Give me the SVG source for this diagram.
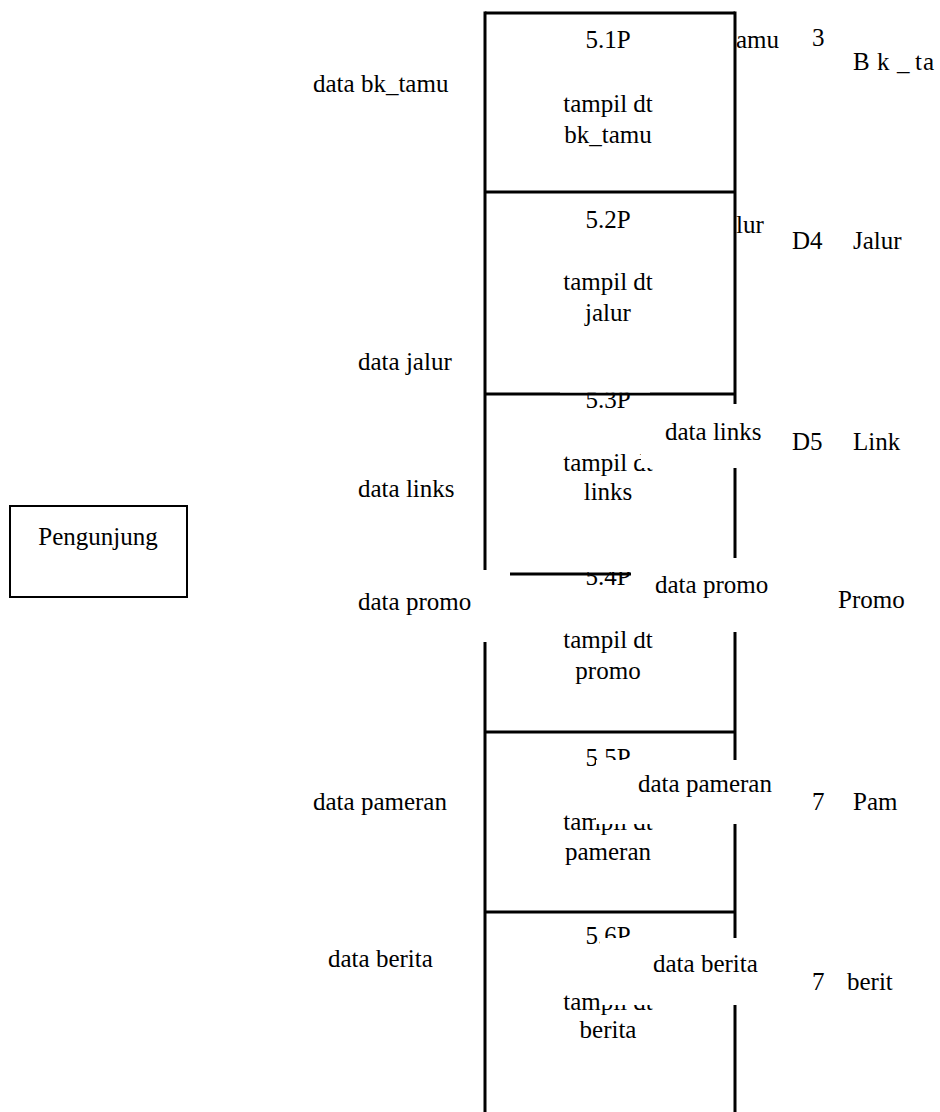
<svg xmlns="http://www.w3.org/2000/svg" width="940" height="1112" viewBox="0 0 940 1112">
  <style>
    text { font-family: "Liberation Serif", "Times New Roman", serif; font-size: 25px; fill: #000; }
    .mid { text-anchor: middle; }
    .edge { stroke: #000; stroke-width: 3; fill: none; }
    .mask { fill: #fff; stroke: none; }
  </style>

  <!-- external entity -->
  <g id="pengunjung">
    <rect x="10" y="506" width="177" height="91" fill="#fff" stroke="#000" stroke-width="2"/>
    <text x="98" y="545" class="mid">Pengunjung</text>
  </g>

  <!-- process column frame -->
  <g id="process-frame">
    <line class="edge" x1="485" y1="13" x2="735" y2="13"/>
    <line class="edge" x1="485" y1="192" x2="735" y2="192"/>
    <line class="edge" x1="485" y1="394" x2="735" y2="394"/>
    <line class="edge" x1="485" y1="732" x2="735" y2="732"/>
    <line class="edge" x1="485" y1="912" x2="735" y2="912"/>
    <line class="edge" x1="485" y1="11.5" x2="485" y2="1112"/>
    <line class="edge" x1="735" y1="11.5" x2="735" y2="1112"/>
  </g>

  <!-- processes -->
  <g id="p5-1">
    <text x="608" y="48" class="mid">5.1P</text>
    <text x="608" y="112" class="mid">tampil dt</text>
    <text x="608" y="143" class="mid">bk_tamu</text>
  </g>
  <g id="p5-2">
    <text x="608" y="228" class="mid">5.2P</text>
    <text x="608" y="290" class="mid">tampil dt</text>
    <text x="608" y="321" class="mid">jalur</text>
  </g>
  <g id="p5-3">
    <text x="608" y="408" class="mid">5.3P</text>
    <text x="608" y="471" class="mid">tampil dt</text>
    <text x="608" y="500" class="mid">links</text>
  </g>
  <g id="p5-4">
    <text x="608" y="585" class="mid">5.4P</text>
    <text x="608" y="648" class="mid">tampil dt</text>
    <text x="608" y="679" class="mid">promo</text>
  </g>
  <g id="p5-5">
    <text x="608" y="766" class="mid">5.5P</text>
    <text x="608" y="830" class="mid">tampil dt</text>
    <text x="608" y="860" class="mid">pameran</text>
  </g>
  <g id="p5-6">
    <text x="608" y="944" class="mid">5.6P</text>
    <text x="608" y="1010" class="mid">tampil dt</text>
    <text x="608" y="1038" class="mid">berita</text>
  </g>

  <!-- cover strips above the 5.3 / 5.4 headings -->
  <rect class="mask" x="560" y="380" width="90" height="12.5"/>
  <rect class="mask" x="500" y="556" width="150" height="16"/>
  <line class="edge" x1="510" y1="574" x2="631" y2="574"/>

  <!-- data stores -->
  <g id="store-bk-tamu">
    <text x="812" y="46">3</text>
    <text x="853 877 897 915 923" y="70">Bk_ta</text>
  </g>
  <g id="store-jalur">
    <text x="792" y="249">D4</text>
    <text x="853" y="249">Jalur</text>
  </g>
  <g id="store-link">
    <text x="792" y="450">D5</text>
    <text x="853" y="450">Link</text>
  </g>
  <g id="store-promo">
    <text x="838" y="608">Promo</text>
  </g>
  <g id="store-pameran">
    <text x="812" y="810">7</text>
    <text x="853" y="810">Pam</text>
  </g>
  <g id="store-berita">
    <text x="812" y="990">7</text>
    <text x="847" y="990">berit</text>
  </g>

  <!-- data flow labels -->
  <g id="flows">
    <text x="313" y="92">data bk_tamu</text>
    <text x="736" y="48">amu</text>
    <text x="358" y="370">data jalur</text>
    <text x="736" y="233">lur</text>
    <text x="358" y="497">data links</text>

    <rect class="mask" x="641" y="404" width="139" height="64"/>
    <text x="665" y="440">data links</text>

    <rect class="mask" x="350" y="570" width="160" height="72"/>
    <text x="358" y="610">data promo</text>
    <rect class="mask" x="631" y="558" width="160" height="74"/>
    <text x="655" y="593">data promo</text>

    <rect class="mask" x="300" y="775" width="183" height="70"/>
    <text x="313" y="810">data pameran</text>
    <rect class="mask" x="596" y="760" width="195" height="64"/>
    <text x="638" y="792">data pameran</text>

    <rect class="mask" x="300" y="933" width="183" height="67"/>
    <text x="328" y="967">data berita</text>
    <rect class="mask" x="600" y="938" width="190" height="67"/>
    <text x="653" y="972">data berita</text>
  </g>
</svg>
